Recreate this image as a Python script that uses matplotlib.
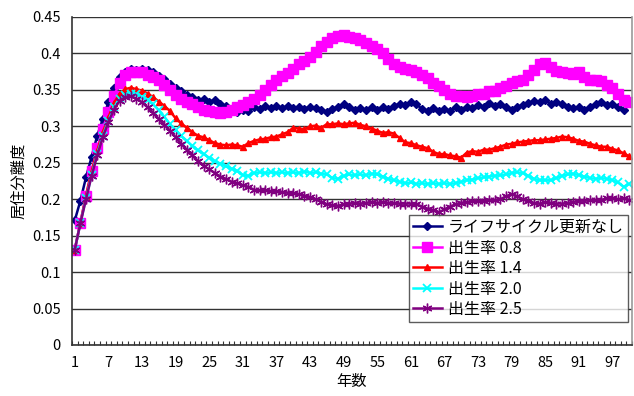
import matplotlib
matplotlib.use("Agg")
import matplotlib.pyplot as plt
from matplotlib.ticker import FixedLocator
import numpy as np

plt.rcParams['font.family'] = ['Noto Sans CJK JP', 'DejaVu Sans']

labels = ["ライフサイクル更新なし", "出生率 0.8", "出生率 1.4", "出生率 2.0", "出生率 2.5"]

no_update = [0.171, 0.198, 0.230, 0.258, 0.287, 0.310, 0.333, 0.353, 0.367, 0.374,
             0.378, 0.377, 0.379, 0.377, 0.374, 0.369, 0.365, 0.358, 0.352, 0.348,
             0.343, 0.340, 0.336, 0.338, 0.334, 0.336, 0.331, 0.328, 0.324, 0.320,
             0.323, 0.321, 0.326, 0.324, 0.328, 0.325, 0.328, 0.325, 0.328, 0.325,
             0.327, 0.324, 0.327, 0.325, 0.323, 0.320, 0.324, 0.327, 0.330, 0.326,
             0.322, 0.325, 0.322, 0.326, 0.323, 0.327, 0.324, 0.328, 0.331, 0.329,
             0.333, 0.330, 0.324, 0.321, 0.325, 0.321, 0.324, 0.321, 0.326, 0.323,
             0.327, 0.325, 0.329, 0.327, 0.332, 0.328, 0.330, 0.326, 0.323, 0.327,
             0.329, 0.332, 0.335, 0.333, 0.336, 0.331, 0.334, 0.330, 0.327, 0.325,
             0.327, 0.323, 0.327, 0.330, 0.333, 0.329, 0.331, 0.326, 0.323]

birth_08 = [0.131, 0.168, 0.205, 0.239, 0.270, 0.297, 0.319, 0.342, 0.360, 0.370,
            0.374, 0.375, 0.374, 0.370, 0.367, 0.363, 0.357, 0.350, 0.343, 0.338,
            0.333, 0.330, 0.326, 0.323, 0.321, 0.319, 0.318, 0.320, 0.322, 0.326,
            0.329, 0.333, 0.338, 0.343, 0.350, 0.357, 0.364, 0.369, 0.373, 0.379,
            0.385, 0.389, 0.395, 0.402, 0.410, 0.416, 0.421, 0.424, 0.425, 0.423,
            0.421, 0.418, 0.414, 0.410, 0.406, 0.400, 0.392, 0.386, 0.382, 0.378,
            0.377, 0.375, 0.370, 0.366, 0.360, 0.356, 0.350, 0.345, 0.342, 0.341,
            0.340, 0.342, 0.345, 0.345, 0.348, 0.349, 0.352, 0.355, 0.360, 0.362,
            0.364, 0.370, 0.377, 0.385, 0.387, 0.382, 0.376, 0.374, 0.373, 0.372,
            0.374, 0.368, 0.364, 0.363, 0.362, 0.357, 0.352, 0.345, 0.336, 0.333]

birth_14 = [0.131, 0.168, 0.205, 0.238, 0.266, 0.292, 0.312, 0.332, 0.345, 0.351,
            0.353, 0.351, 0.349, 0.345, 0.340, 0.334, 0.328, 0.321, 0.311, 0.304,
            0.298, 0.292, 0.287, 0.285, 0.281, 0.277, 0.275, 0.274, 0.275, 0.274,
            0.272, 0.277, 0.280, 0.282, 0.283, 0.285, 0.286, 0.289, 0.292, 0.298,
            0.297, 0.296, 0.300, 0.301, 0.298, 0.303, 0.303, 0.304, 0.303, 0.304,
            0.305, 0.302, 0.300, 0.297, 0.294, 0.291, 0.292, 0.290, 0.284, 0.278,
            0.277, 0.274, 0.272, 0.270, 0.265, 0.262, 0.262, 0.260, 0.259, 0.257,
            0.264, 0.266, 0.265, 0.268, 0.268, 0.270, 0.272, 0.275, 0.276, 0.278,
            0.279, 0.280, 0.281, 0.281, 0.282, 0.283, 0.284, 0.286, 0.285, 0.283,
            0.280, 0.279, 0.276, 0.274, 0.272, 0.272, 0.269, 0.267, 0.263, 0.259]

birth_20 = [0.131, 0.167, 0.201, 0.233, 0.262, 0.287, 0.308, 0.326, 0.338, 0.343,
            0.345, 0.344, 0.340, 0.336, 0.330, 0.322, 0.313, 0.303, 0.295, 0.287,
            0.280, 0.273, 0.267, 0.262, 0.257, 0.252, 0.249, 0.245, 0.242, 0.239,
            0.233, 0.232, 0.236, 0.237, 0.236, 0.237, 0.236, 0.237, 0.236, 0.237,
            0.236, 0.238, 0.236, 0.237, 0.235, 0.234, 0.229, 0.228, 0.232, 0.234,
            0.233, 0.234, 0.233, 0.235, 0.234, 0.231, 0.228, 0.226, 0.224, 0.222,
            0.223, 0.221, 0.222, 0.221, 0.222, 0.221, 0.222, 0.221, 0.222, 0.224,
            0.226, 0.227, 0.229, 0.230, 0.231, 0.232, 0.233, 0.234, 0.236, 0.237,
            0.236, 0.232, 0.228, 0.226, 0.226, 0.226, 0.229, 0.232, 0.234, 0.235,
            0.233, 0.231, 0.229, 0.228, 0.229, 0.228, 0.226, 0.223, 0.217, 0.221]

birth_25 = [0.131, 0.167, 0.200, 0.232, 0.260, 0.285, 0.306, 0.323, 0.335, 0.340,
            0.341, 0.338, 0.333, 0.326, 0.318, 0.310, 0.302, 0.294, 0.285, 0.276,
            0.268, 0.260, 0.252, 0.246, 0.241, 0.236, 0.231, 0.228, 0.224, 0.222,
            0.219, 0.217, 0.213, 0.212, 0.212, 0.211, 0.211, 0.210, 0.209, 0.208,
            0.207, 0.205, 0.203, 0.200, 0.196, 0.193, 0.192, 0.191, 0.193, 0.194,
            0.195, 0.194, 0.195, 0.196, 0.195, 0.196, 0.195, 0.195, 0.194, 0.194,
            0.194, 0.193, 0.190, 0.187, 0.185, 0.182, 0.186, 0.190, 0.193, 0.195,
            0.196, 0.197, 0.197, 0.198, 0.199, 0.199, 0.200, 0.204, 0.207, 0.204,
            0.200, 0.197, 0.195, 0.194, 0.196, 0.195, 0.194, 0.194, 0.195, 0.196,
            0.198, 0.198, 0.199, 0.199, 0.199, 0.201, 0.202, 0.200, 0.201, 0.199]

xtick_labels = [str(v) for v in range(1, 100, 6)]
y_ticks = [0, 0.05, 0.1, 0.15, 0.2, 0.25, 0.3, 0.35, 0.4, 0.45]
y_tick_labels = ["0", "0.05", "0.1", "0.15", "0.2", "0.25", "0.3", "0.35", "0.4", "0.45"]

fig = plt.figure(figsize=(6.34, 3.96), dpi=100)
ax = fig.add_axes([72/634, 1-345/396, 560/634, 328/396])

series = [no_update, birth_08, birth_14, birth_20, birth_25]
styles = [
    dict(color="#000080", marker="D", markersize=4.5),
    dict(color="#FF00FF", marker="s", markersize=7.5),
    dict(color="#FF0000", marker="^", markersize=4),
    dict(color="#00FFFF", marker="x", markersize=6, markeredgewidth=1.3),
    dict(color="#800080", marker=(6, 2, 0), markersize=7, markeredgewidth=1.0),
]
for vals, lab, st in zip(series, labels, styles):
    x = np.arange(1, len(vals) + 1)
    ax.plot(x, vals, label=lab, linewidth=1.8, **st)

ax.set_xlim(0.5, 100.5)
ax.set_ylim(0, 0.45)
ax.set_yticks(y_ticks)
ax.set_yticklabels(y_tick_labels, fontsize=10.5)
ax.set_xticks(list(range(1, 100, 6)))
ax.set_xticklabels(xtick_labels, fontsize=10.5)
ax.xaxis.set_minor_locator(FixedLocator(np.arange(0.5, 101, 1)))
ax.tick_params(axis='x', which='major', length=0, pad=8)
ax.tick_params(axis='x', which='minor', length=3, direction='in', width=0.8, color='#333333')
ax.tick_params(axis='y', which='major', length=0, pad=8)
ax.grid(axis='y', color='#333333', linewidth=1.0)
ax.set_axisbelow(True)
for s in ['left', 'bottom']:
    ax.spines[s].set_color('#333333')
    ax.spines[s].set_linewidth(1.2)
ax.spines['top'].set_visible(False)
ax.spines['right'].set_color('#999999')
ax.spines['right'].set_linewidth(1.2)

ax.set_ylabel("居住分離度", fontsize=11, labelpad=4)
ax.set_xlabel("年数", fontsize=11, labelpad=2)

leg = ax.legend(loc='upper right', bbox_to_anchor=((628-72)/560, (345-215)/328), fontsize=11.5,
                frameon=True, fancybox=False, edgecolor='#333333', borderpad=0.25,
                labelspacing=0.22, handlelength=1.8, handletextpad=0.4, borderaxespad=0)
leg.get_frame().set_linewidth(1.0)

fig.savefig("out.png", dpi=100)
